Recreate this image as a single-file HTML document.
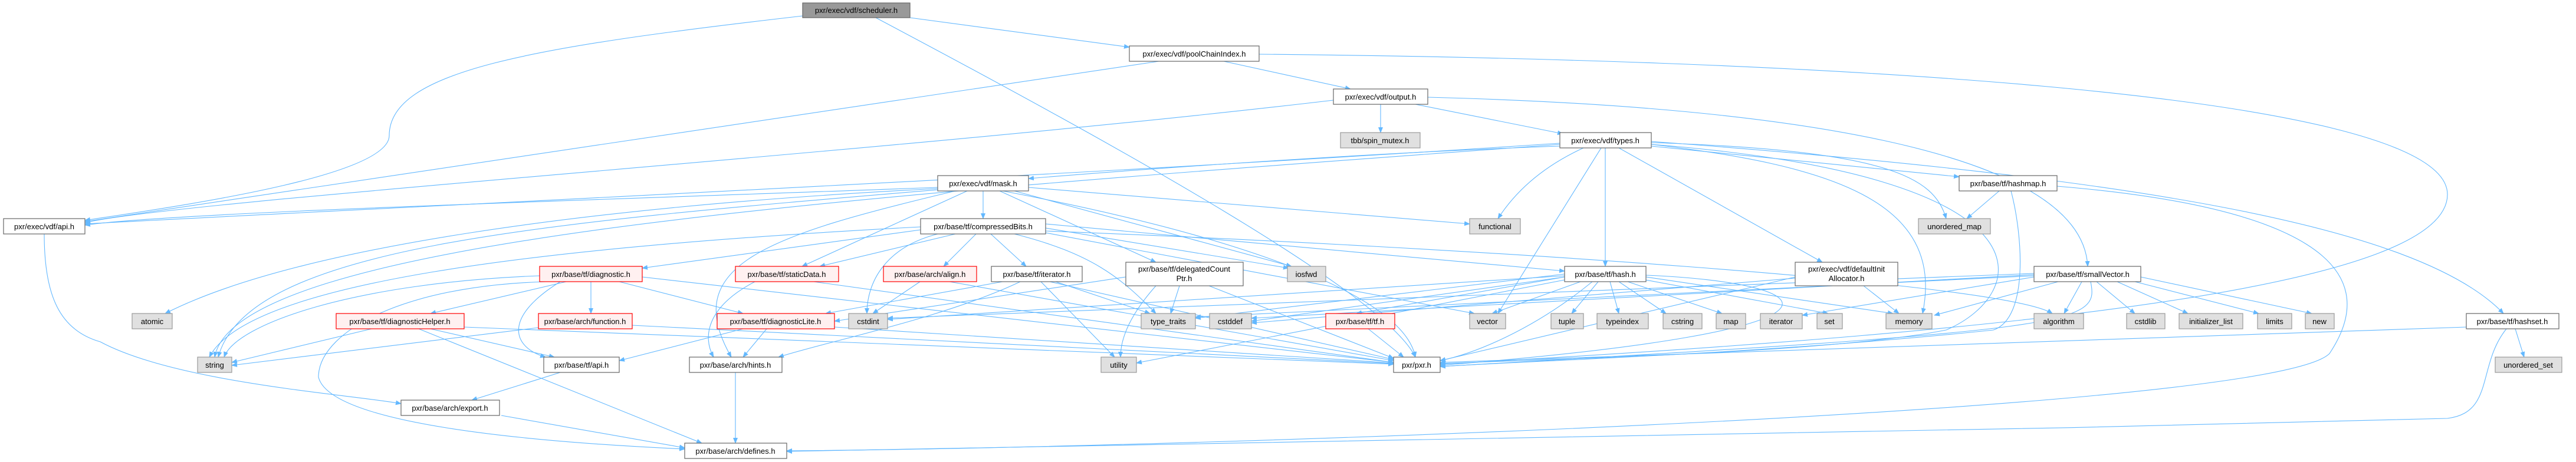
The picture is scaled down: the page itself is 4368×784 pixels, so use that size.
<!DOCTYPE html>
<html><head><meta charset="utf-8"><style>
html,body{margin:0;padding:0;background:#fff;}
svg{display:block;}
text{font-family:"Liberation Sans",sans-serif;font-size:13px;fill:#000;text-anchor:middle;}
.e{fill:none;stroke:#63b8ff;stroke-width:1.1;marker-end:url(#a);}
.n rect{fill:#fff;stroke:#666;stroke-width:1.2;}
.r rect{fill:#fff0f0;stroke:#ff0000;stroke-width:1.2;}
.g rect{fill:#e0e0e0;stroke:#999;stroke-width:1.2;}
.s rect{fill:#999;stroke:#666;stroke-width:1.2;}
</style></head><body>
<svg width="4368" height="784" viewBox="0 0 4368 784" xmlns="http://www.w3.org/2000/svg">
<defs><marker id="a" markerWidth="10" markerHeight="8" refX="9" refY="4" orient="auto" markerUnits="userSpaceOnUse"><path d="M0,0 L10,4 L0,8 z" fill="#63b8ff"/></marker></defs>
<g>
<path class="e" d="M1361,27 C900,80 660,120 660,230 C660,300 300,350 144,374"/>
<path class="e" d="M1543,30 L1915,80"/>
<path class="e" d="M1485,30 C1900,250 2350,500 2400,606"/>
<path class="e" d="M1965,104 L144,376"/>
<path class="e" d="M2075,104 L2290,151"/>
<path class="e" d="M2135,92 C3000,100 4150,150 4150,330 C4150,480 3500,560 2442,618"/>
<path class="e" d="M2261,170 C1500,260 300,340 144,378"/>
<path class="e" d="M2341,177 L2341,225"/>
<path class="e" d="M2400,177 L2650,227"/>
<path class="e" d="M2421,165 C3000,180 3530,250 3540,452"/>
<path class="e" d="M2645,243 C1800,300 500,360 144,380"/>
<path class="e" d="M2645,248 C2300,260 1900,290 1744,303"/>
<path class="e" d="M2685,251 C2600,290 2560,340 2540,371"/>
<path class="e" d="M2715,251 L2540,532"/>
<path class="e" d="M2722,251 L2722,452"/>
<path class="e" d="M2745,251 L3090,445"/>
<path class="e" d="M2800,248 L3322,300"/>
<path class="e" d="M2800,242 C3200,255 3280,300 3300,371"/>
<path class="e" d="M2800,240 C3600,300 4100,380 4245,532"/>
<path class="e" d="M2800,245 C3500,300 3440,500 3300,560 C3100,600 2600,610 2442,617"/>
<path class="e" d="M2645,245 C1500,330 400,400 364,606"/>
<path class="e" d="M2800,245 C3100,280 3300,340 3260,532"/>
<path class="e" d="M1590,318 C1000,340 300,360 144,382"/>
<path class="e" d="M1667,324 L1667,371"/>
<path class="e" d="M1640,324 L1360,452"/>
<path class="e" d="M1744,318 L2492,380"/>
<path class="e" d="M1720,324 L2190,452"/>
<path class="e" d="M1700,324 C2100,400 2380,500 2400,606"/>
<path class="e" d="M1620,324 C1300,400 1150,450 1240,606"/>
<path class="e" d="M1695,324 L1960,445"/>
<path class="e" d="M1590,322 C900,380 420,420 370,606"/>
<path class="e" d="M1590,320 C1000,350 500,420 280,532"/>
<path class="e" d="M1561,390 L1089,455"/>
<path class="e" d="M1620,397 L1390,452"/>
<path class="e" d="M1655,397 L1600,452"/>
<path class="e" d="M1680,397 L1740,452"/>
<path class="e" d="M1590,397 C1500,420 1470,480 1470,532"/>
<path class="e" d="M1720,397 C1850,430 1900,470 1960,532"/>
<path class="e" d="M1773,380 L2653,460"/>
<path class="e" d="M1773,392 C2500,420 3400,480 3480,532"/>
<path class="e" d="M1773,395 L2500,532"/>
<path class="e" d="M1773,387 L2185,455"/>
<path class="e" d="M1561,385 C900,420 420,480 355,606"/>
<path class="e" d="M960,478 L730,532"/>
<path class="e" d="M1002,478 L1002,532"/>
<path class="e" d="M950,478 C850,540 870,590 925,606"/>
<path class="e" d="M1050,478 L1260,532"/>
<path class="e" d="M915,468 C600,480 400,550 380,606"/>
<path class="e" d="M1089,470 L2363,615"/>
<path class="e" d="M1000,478 C700,470 540,560 540,640 C560,720 900,750 1161,762"/>
<path class="e" d="M630,558 L393,615"/>
<path class="e" d="M730,558 L940,606"/>
<path class="e" d="M710,558 L1190,752"/>
<path class="e" d="M787,555 L2363,618"/>
<path class="e" d="M913,556 L393,620"/>
<path class="e" d="M1072,552 L2363,617"/>
<path class="e" d="M1280,478 C1200,520 1190,570 1210,606"/>
<path class="e" d="M1380,478 L2363,615"/>
<path class="e" d="M1560,478 L1480,532"/>
<path class="e" d="M1610,478 L2363,612"/>
<path class="e" d="M1700,478 L1400,532"/>
<path class="e" d="M1730,478 C1600,540 1400,580 1320,606"/>
<path class="e" d="M1765,478 L1890,606"/>
<path class="e" d="M1790,478 L1950,532"/>
<path class="e" d="M1780,478 L2363,610"/>
<path class="e" d="M1909,470 L1415,545"/>
<path class="e" d="M1960,485 C1920,530 1900,570 1900,606"/>
<path class="e" d="M2000,485 L1985,532"/>
<path class="e" d="M2050,485 L2363,608"/>
<path class="e" d="M1260,558 L1050,612"/>
<path class="e" d="M1300,558 L1260,606"/>
<path class="e" d="M1415,555 L2363,616"/>
<path class="e" d="M950,632 L800,679"/>
<path class="e" d="M850,705 L1161,760"/>
<path class="e" d="M1247,632 L1247,752"/>
<path class="e" d="M2320,558 L2380,606"/>
<path class="e" d="M2653,470 L2300,532"/>
<path class="e" d="M2680,478 L2530,532"/>
<path class="e" d="M2710,478 L2665,532"/>
<path class="e" d="M2730,478 L2745,532"/>
<path class="e" d="M2745,478 L2825,532"/>
<path class="e" d="M2760,478 L2920,532"/>
<path class="e" d="M2790,475 L3100,532"/>
<path class="e" d="M2791,470 L3210,532"/>
<path class="e" d="M2653,465 L2027,540"/>
<path class="e" d="M2653,470 L2122,545"/>
<path class="e" d="M2653,468 L1505,542"/>
<path class="e" d="M2700,478 C2600,560 2500,600 2442,612"/>
<path class="e" d="M2653,475 L1927,616"/>
<path class="e" d="M2791,467 C3100,480 3200,560 2442,620"/>
<path class="e" d="M3160,485 L3220,532"/>
<path class="e" d="M3044,470 L2442,612"/>
<path class="e" d="M3044,472 L2122,548"/>
<path class="e" d="M3490,478 L3280,535"/>
<path class="e" d="M3530,478 L3500,532"/>
<path class="e" d="M3555,478 L3620,532"/>
<path class="e" d="M3590,478 L3710,532"/>
<path class="e" d="M3620,478 L3830,532"/>
<path class="e" d="M3630,470 L3920,532"/>
<path class="e" d="M3449,470 L3056,535"/>
<path class="e" d="M3449,468 L2027,538"/>
<path class="e" d="M3449,466 L2122,540"/>
<path class="e" d="M3449,464 L1505,540"/>
<path class="e" d="M3545,478 C3560,550 3530,560 2442,622"/>
<path class="e" d="M3390,324 L3335,371"/>
<path class="e" d="M3410,324 C3430,400 3440,540 3380,560 C3000,600 2600,612 2442,622"/>
<path class="e" d="M3488,316 C3900,350 4050,450 3950,600 C3850,700 2000,760 1334,765"/>
<path class="e" d="M4265,558 L4280,606"/>
<path class="e" d="M4182,555 L2442,615"/>
<path class="e" d="M4250,558 C4200,620 4230,700 4150,710 C3000,740 1600,765 1334,766"/>
<path class="e" d="M75,397 C75,500 100,560 170,580 C300,650 600,670 680,685"/>
</g>
<g class="s"><rect x="1361" y="5" width="182" height="25"/><text x="1452" y="22">pxr/exec/vdf/scheduler.h</text></g>
<g class="n"><rect x="1915" y="78" width="220" height="26"/><text x="2025" y="96">pxr/exec/vdf/poolChainIndex.h</text></g>
<g class="n"><rect x="2261" y="151" width="160" height="26"/><text x="2341" y="169">pxr/exec/vdf/output.h</text></g>
<g class="g"><rect x="2273" y="225" width="135" height="26"/><text x="2340" y="243">tbb/spin_mutex.h</text></g>
<g class="n"><rect x="2645" y="225" width="155" height="26"/><text x="2722" y="243">pxr/exec/vdf/types.h</text></g>
<g class="n"><rect x="6" y="371" width="138" height="26"/><text x="75" y="389">pxr/exec/vdf/api.h</text></g>
<g class="n"><rect x="1590" y="298" width="154" height="26"/><text x="1667" y="316">pxr/exec/vdf/mask.h</text></g>
<g class="n"><rect x="1561" y="371" width="212" height="26"/><text x="1667" y="389">pxr/base/tf/compressedBits.h</text></g>
<g class="g"><rect x="2492" y="371" width="86" height="26"/><text x="2535" y="389">functional</text></g>
<g class="n"><rect x="3322" y="298" width="166" height="26"/><text x="3405" y="316">pxr/base/tf/hashmap.h</text></g>
<g class="g"><rect x="3253" y="371" width="122" height="26"/><text x="3314" y="389">unordered_map</text></g>
<g class="r"><rect x="915" y="452" width="174" height="26"/><text x="1002" y="470">pxr/base/tf/diagnostic.h</text></g>
<g class="r"><rect x="1247" y="452" width="175" height="26"/><text x="1334" y="470">pxr/base/tf/staticData.h</text></g>
<g class="r"><rect x="1498" y="452" width="158" height="26"/><text x="1577" y="470">pxr/base/arch/align.h</text></g>
<g class="n"><rect x="1681" y="452" width="154" height="26"/><text x="1758" y="470">pxr/base/tf/iterator.h</text></g>
<g class="n"><rect x="1909" y="445" width="199" height="40"/><text x="2008" y="461">pxr/base/tf/delegatedCount</text><text x="2008" y="477">Ptr.h</text></g>
<g class="g"><rect x="2183" y="452" width="65" height="26"/><text x="2215" y="470">iosfwd</text></g>
<g class="n"><rect x="2653" y="452" width="138" height="26"/><text x="2722" y="470">pxr/base/tf/hash.h</text></g>
<g class="n"><rect x="3044" y="445" width="174" height="40"/><text x="3131" y="461">pxr/exec/vdf/defaultInit</text><text x="3131" y="477">Allocator.h</text></g>
<g class="n"><rect x="3449" y="452" width="181" height="26"/><text x="3540" y="470">pxr/base/tf/smallVector.h</text></g>
<g class="g"><rect x="224" y="532" width="68" height="26"/><text x="258" y="550">atomic</text></g>
<g class="r"><rect x="570" y="532" width="217" height="26"/><text x="678" y="550">pxr/base/tf/diagnosticHelper.h</text></g>
<g class="r"><rect x="913" y="532" width="159" height="26"/><text x="992" y="550">pxr/base/arch/function.h</text></g>
<g class="r"><rect x="1216" y="532" width="199" height="26"/><text x="1315" y="550">pxr/base/tf/diagnosticLite.h</text></g>
<g class="g"><rect x="1439" y="532" width="66" height="26"/><text x="1472" y="550">cstdint</text></g>
<g class="g"><rect x="1935" y="532" width="92" height="26"/><text x="1981" y="550">type_traits</text></g>
<g class="g"><rect x="2051" y="532" width="71" height="26"/><text x="2086" y="550">cstddef</text></g>
<g class="r"><rect x="2248" y="532" width="117" height="26"/><text x="2306" y="550">pxr/base/tf/tf.h</text></g>
<g class="g"><rect x="2492" y="532" width="61" height="26"/><text x="2522" y="550">vector</text></g>
<g class="g"><rect x="2630" y="532" width="55" height="26"/><text x="2657" y="550">tuple</text></g>
<g class="g"><rect x="2708" y="532" width="87" height="26"/><text x="2751" y="550">typeindex</text></g>
<g class="g"><rect x="2820" y="532" width="66" height="26"/><text x="2853" y="550">cstring</text></g>
<g class="g"><rect x="2910" y="532" width="50" height="26"/><text x="2935" y="550">map</text></g>
<g class="g"><rect x="2985" y="532" width="71" height="26"/><text x="3020" y="550">iterator</text></g>
<g class="g"><rect x="3081" y="532" width="43" height="26"/><text x="3102" y="550">set</text></g>
<g class="g"><rect x="3198" y="532" width="78" height="26"/><text x="3237" y="550">memory</text></g>
<g class="g"><rect x="3449" y="532" width="84" height="26"/><text x="3491" y="550">algorithm</text></g>
<g class="g"><rect x="3606" y="532" width="65" height="26"/><text x="3638" y="550">cstdlib</text></g>
<g class="g"><rect x="3695" y="532" width="108" height="26"/><text x="3749" y="550">initializer_list</text></g>
<g class="g"><rect x="3828" y="532" width="58" height="26"/><text x="3857" y="550">limits</text></g>
<g class="g"><rect x="3909" y="532" width="49" height="26"/><text x="3933" y="550">new</text></g>
<g class="n"><rect x="4182" y="532" width="157" height="26"/><text x="4260" y="550">pxr/base/tf/hashset.h</text></g>
<g class="g"><rect x="335" y="606" width="58" height="26"/><text x="364" y="624">string</text></g>
<g class="n"><rect x="922" y="606" width="128" height="26"/><text x="986" y="624">pxr/base/tf/api.h</text></g>
<g class="n"><rect x="1169" y="606" width="157" height="26"/><text x="1247" y="624">pxr/base/arch/hints.h</text></g>
<g class="g"><rect x="1867" y="606" width="60" height="26"/><text x="1897" y="624">utility</text></g>
<g class="n"><rect x="2363" y="606" width="79" height="26"/><text x="2402" y="624">pxr/pxr.h</text></g>
<g class="g"><rect x="4231" y="606" width="113" height="26"/><text x="4287" y="624">unordered_set</text></g>
<g class="n"><rect x="680" y="679" width="167" height="26"/><text x="763" y="697">pxr/base/arch/export.h</text></g>
<g class="n"><rect x="1161" y="752" width="173" height="26"/><text x="1247" y="770">pxr/base/arch/defines.h</text></g>
</svg>
</body></html>
